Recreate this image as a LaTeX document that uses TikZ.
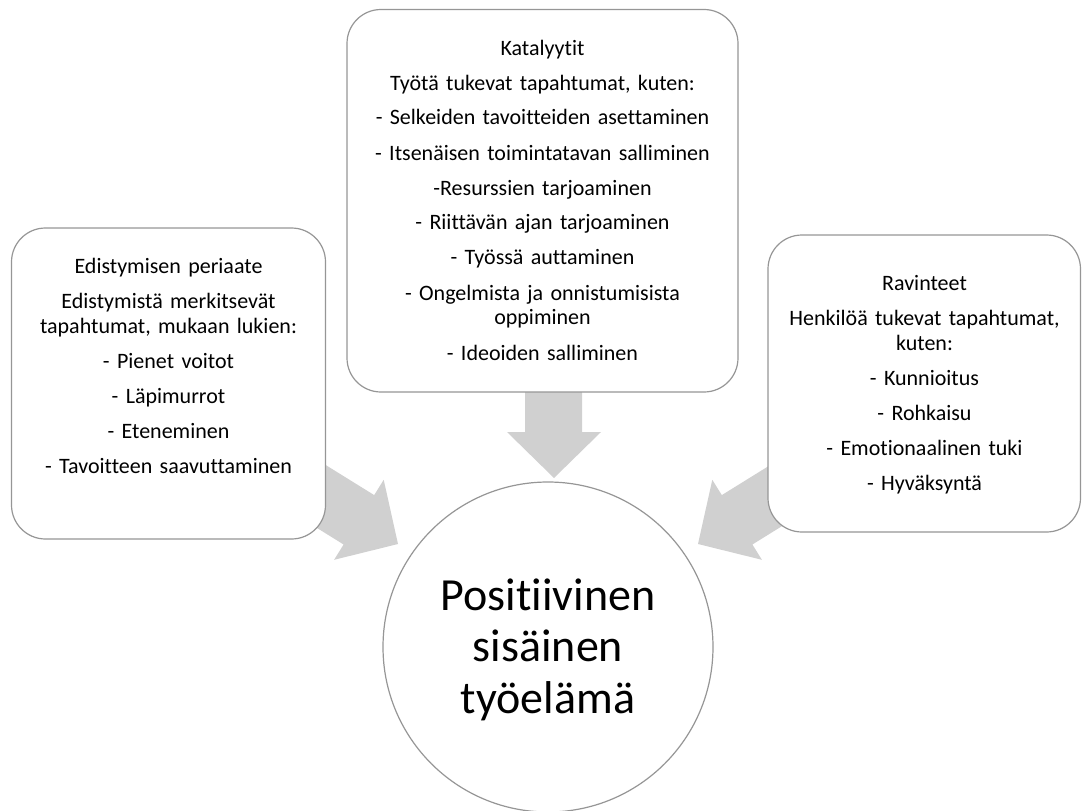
\documentclass[tikz,border=0pt]{standalone}
\usepackage{fontspec}
\setmainfont{Carlito}[Ligatures={NoCommon,NoContextual}]
\definecolor{edgegray}{RGB}{150,150,150}
\definecolor{arrowgray}{RGB}{208,208,208}
\begin{document}
\begin{tikzpicture}[x=1pt,y=-1pt,
  panel/.style={draw=edgegray, line width=1.2pt, fill=white, rounded corners=34pt,
                rectangle, inner sep=0pt},
  hub/.style={draw=edgegray, line width=1.2pt, fill=white, circle, inner sep=0pt},
  blockarrow/.style={fill=arrowgray, draw=none},
  smalltext/.style={font=\fontsize{22}{25}\selectfont, align=center, inner sep=0pt, anchor=base},
  bigtext/.style={font=\fontsize{46}{51.5}\selectfont, align=center, inner sep=0pt, anchor=base}]
\useasboundingbox (0,0) rectangle (1082,811);

% block arrows (tails hidden under the panels)
\coordinate (tipL) at (398,544);
\coordinate (tipC) at (554,478);
\coordinate (tipR) at (698,544);
\fill[blockarrow] (289.2,442.4) -- (374.2,495.1) -- (383.7,479.8) -- (tipL)
  -- (334.1,559.8) -- (343.6,544.5) -- (258.6,491.7) -- cycle;
\fill[blockarrow] (525,360) -- (582,360) -- (582,432) -- (601,432) -- (tipC)
  -- (507,432) -- (525,432) -- cycle;
\fill[blockarrow] (806.8,442.4) -- (721.8,495.1) -- (712.3,479.8) -- (tipR)
  -- (761.9,559.8) -- (752.4,544.5) -- (837.4,491.7) -- cycle;

% panels
\node[panel, minimum width=391pt, minimum height=382.5pt] (catalysts) at (542.5,200.75) {};
\node[panel, minimum width=314pt, minimum height=311pt] (progress) at (168.5,383.5) {};
\node[panel, minimum width=312.5pt, minimum height=297pt] (nourish) at (924.25,383.5) {};
\node[hub, minimum size=330pt] (goal) at (548,647) {};

% panel texts
\node[smalltext, text width=385pt] (catalyststext) at (542.5,55) {Katalyytit\\[10pt]
Työtä tukevat tapahtumat, kuten:\\[10pt]
- Selkeiden tavoitteiden asettaminen\\[10pt]
- Itsenäisen toimintatavan salliminen\\[10pt]
-Resurssien tarjoaminen\\[10pt]
- Riittävän ajan tarjoaminen\\[10pt]
- Työssä auttaminen\\[10pt]
- Ongelmista ja onnistumisista\\
oppiminen\\[10pt]
- Ideoiden salliminen};

\node[smalltext, text width=305pt] (progresstext) at (168.5,273) {Edistymisen periaate\\[10pt]
Edistymistä merkitsevät\\
tapahtumat, mukaan lukien:\\[10pt]
- Pienet voitot\\[10pt]
- Läpimurrot\\[10pt]
- Eteneminen\\[10pt]
- Tavoitteen saavuttaminen};

\node[smalltext, text width=305pt] (nourishtext) at (924.5,290) {Ravinteet\\[10pt]
Henkilöä tukevat tapahtumat,\\
kuten:\\[10pt]
- Kunnioitus\\[10pt]
- Rohkaisu\\[10pt]
- Emotionaalinen tuki\\[10pt]
- Hyväksyntä};

\node[bigtext, text width=320pt] (goaltext) at (548,610) {Positiivinen\\sisäinen\\työelämä};
\end{tikzpicture}
\end{document}
